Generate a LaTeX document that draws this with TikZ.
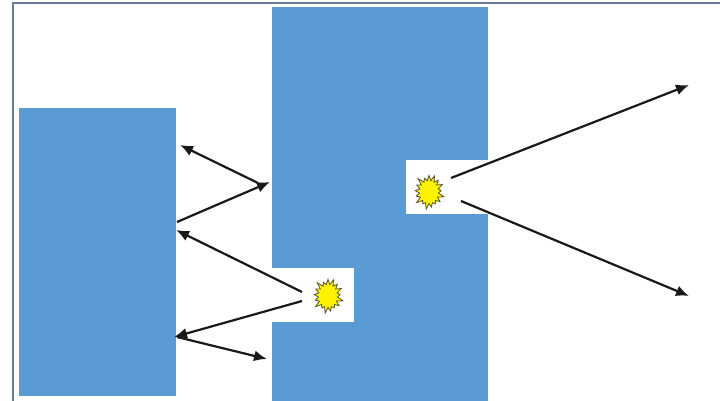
\documentclass[tikz,border=0pt]{standalone}
\usetikzlibrary{shapes}
\usetikzlibrary{arrows.meta}

\begin{document}
\begin{tikzpicture}[x=1pt,y=-1pt]
				\definecolor{blockblue}{HTML}{5B9BD5}
				\definecolor{framegray}{HTML}{6B7A99}
				\tikzstyle{block}=[rectangle,fill=blockblue,inner sep=0pt,minimum size=0pt]
				\tikzstyle{notch}=[rectangle,fill=white,inner sep=0pt,minimum width=82pt,minimum height=54pt]
				\tikzstyle{spark}=[starburst,starburst points=17,starburst point height=7pt,fill=yellow,draw=black!50!olive,line width=0.8pt,inner sep=0pt,minimum width=33pt,minimum height=37pt]
				\tikzstyle{ray}=[-{Latex[length=13pt,width=11pt]},line width=2.2pt,black!90]
				\pgfmathsetseed{7}
				
				\useasboundingbox (0,0) rectangle (720,401);
				\draw[framegray,line width=2pt] (12.5,401) -- (12.5,3.5) -- (720,3.5);
				
				\node[block,minimum width=157pt,minimum height=288pt] (leftblock) at (97.5,252) {};
				\node[block,minimum width=216pt,minimum height=394pt] (midblock) at (380,204) {};
				\node[notch] (upperslit) at (447,187) {};
				\node[notch] (lowerslit) at (313,295) {};
				\node[spark] (uppersun) at (429,192) {};
				\node[spark] (lowersun) at (328,296) {};
				
				\coordinate (topout) at (689,85);
				\coordinate (botout) at (689,296);
				\coordinate (upperstart) at (451,178);
				\coordinate (lowerstart) at (461,201);
				\coordinate (midhit) at (270,182);
				\coordinate (midback) at (258,183);
				\coordinate (lefthit) at (177,222);
				\coordinate (leftup) at (180,145);
				\coordinate (leftmid) at (176,230);
				\coordinate (leftlow) at (174,337);
				\coordinate (lowback) at (177,337);
				\coordinate (midlow) at (267,359);
				\coordinate (sunhigh) at (302,292);
				\coordinate (sunlow) at (302,301);
				
				\draw[ray] (upperstart) -- (topout);
				\draw[ray] (lowerstart) -- (botout);
				\draw[ray] (lefthit) -- (midhit);
				\draw[ray] (midback) -- (leftup);
				\draw[ray] (sunhigh) -- (leftmid);
				\draw[ray] (sunlow) -- (leftlow);
				\draw[ray] (lowback) -- (midlow);
\end{tikzpicture}
\end{document}
